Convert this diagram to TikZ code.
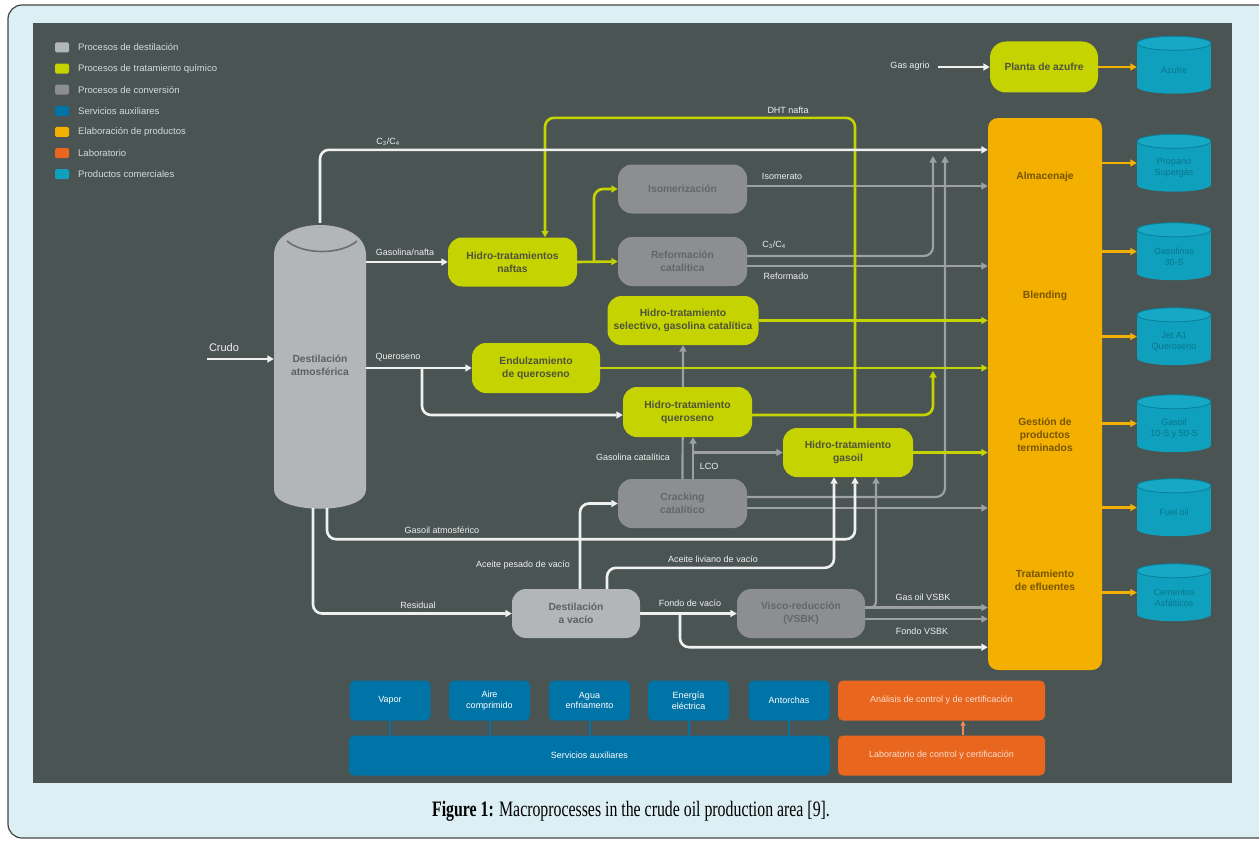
\documentclass[tikz,border=0pt]{standalone}
\usepackage{fontspec}
\setmainfont{Liberation Sans}
\newfontfamily\capfont[FakeStretch=0.72]{Liberation Serif}
\usetikzlibrary{arrows.meta}
\pgfdeclarelayer{back}
\pgfdeclarelayer{lines}
\pgfsetlayers{back,lines,main}

\definecolor{panel}{RGB}{73,84,83}
\definecolor{paper}{RGB}{220,239,244}
\definecolor{framec}{RGB}{70,70,70}
\definecolor{distc}{RGB}{179,182,185}
\definecolor{distt}{RGB}{92,97,100}
\definecolor{limec}{RGB}{197,211,0}
\definecolor{limet}{RGB}{78,84,60}
\definecolor{convc}{RGB}{140,142,144}
\definecolor{convt}{RGB}{100,102,104}
\definecolor{bluec}{RGB}{0,116,166}
\definecolor{elabc}{RGB}{244,176,0}
\definecolor{elabt}{RGB}{120,86,0}
\definecolor{labc}{RGB}{232,102,30}
\definecolor{labt}{RGB}{250,222,205}
\definecolor{prodc}{RGB}{14,160,188}
\definecolor{prodtop}{RGB}{22,168,196}
\definecolor{prodrim}{RGB}{8,128,152}
\definecolor{prodt}{RGB}{10,118,142}
\definecolor{wl}{RGB}{240,240,240}
\definecolor{gl}{RGB}{158,161,163}
\definecolor{legt}{RGB}{215,218,218}
\definecolor{arcc}{RGB}{105,110,113}

\newcommand\prodcyl[3]{%
  \node[prodhold] (#1) at (1174,#2) {};
  \node[prodtxt] (#1t) at (1174,#2+5) {#3};
  \begin{pgfonlayer}{lines}
    \fill[prodc] ([yshift=-7pt]#1.north west) rectangle ([yshift=7pt]#1.south east);
    \fill[prodc] ([yshift=7pt]#1.south) ellipse [x radius=37pt, y radius=7pt];
    \filldraw[fill=prodtop, draw=prodrim, line width=0.8pt] ([yshift=-7pt]#1.north) ellipse [x radius=37pt, y radius=7pt];
  \end{pgfonlayer}}

\begin{document}
\begin{tikzpicture}[x=1pt,y=-1pt,
  >={Triangle[length=6.5pt,width=7pt]},
  ln/.style={line width=2.6pt, rounded corners=9pt},
  wln/.style={ln, draw=wl}, warr/.style={wln, ->},
  gln/.style={ln, line width=2.2pt, draw=gl}, garr/.style={gln, ->},
  lln/.style={ln, draw=limec}, larr/.style={lln, ->},
  oarr/.style={ln, draw=elabc, ->},
  lbl/.style={text=wl, font=\fontsize{9}{10}\selectfont, inner sep=0pt},
  proc/.style={rectangle, rounded corners=14pt, minimum width=129pt, minimum height=49pt, align=center, inner sep=2pt, font=\bfseries\fontsize{10.3}{13}\selectfont},
  lproc/.style={proc, fill=limec, text=limet},
  gproc/.style={proc, fill=convc, text=convt},
  dproc/.style={proc, fill=distc, text=distt},
  svc/.style={rectangle, rounded corners=5pt, minimum height=40pt, minimum width=81pt, fill=bluec, text=white, align=center, inner sep=1pt, font=\fontsize{9}{10.5}\selectfont},
  lab/.style={svc, fill=labc, text=labt, minimum width=207pt},
  obtxt/.style={text=elabt, align=center, font=\bfseries\fontsize{10.3}{13}\selectfont},
  prodhold/.style={rectangle, minimum width=74pt, minimum height=57pt, inner sep=0pt},
  prodtxt/.style={text=prodt, align=center, font=\fontsize{9}{11}\selectfont},
  legsq/.style={rectangle, rounded corners=1.5pt, minimum width=14pt, minimum height=10pt, inner sep=0pt},
  legtx/.style={anchor=west, text=legt, font=\fontsize{9.5}{11}\selectfont, inner sep=0pt}]

\useasboundingbox (0,0) rectangle (1259,843);
\clip (0,0) rectangle (1259,843);

\begin{pgfonlayer}{back}
  \fill[white] (0,0) rectangle (1259,843);
  \filldraw[fill=paper, draw=framec, line width=1.2pt, rounded corners=14pt] (8,5) rectangle (1300,838);
  \fill[panel] (33,23) rectangle (1232,783);
\end{pgfonlayer}

% legend
\foreach \c/\t [count=\i] in {distc/Procesos de destilación, limec/Procesos de tratamiento químico, convc/Procesos de conversión, bluec/Servicios auxiliares, elabc/Elaboración de productos, labc/Laboratorio, prodc/Productos comerciales} {
  \node[legsq, fill=\c] (lsq\i) at (62, 47.5+21.1*\i-21.1) {};
  \node[legtx] (ltx\i) at (78, 47.5+21.1*\i-21.1) {\t};
}

% column
\begin{pgfonlayer}{lines}
  \fill[distc] (274,255) .. controls (274,215) and (366,215) .. (366,255) -- (366,490) .. controls (366,515) and (274,515) .. (274,490) -- cycle;
  \draw[arcc, line width=1.6pt] (287,241) .. controls (303,255) and (341,255) .. (357,241);
\end{pgfonlayer}
\node[dproc, fill=none, minimum width=92pt, minimum height=285pt] (col) at (320,365.5) {Destilación\\atmosférica};

% process nodes
\node[lproc] (htn) at (512.5,262) {Hidro-tratamientos\\naftas};
\node[gproc] (isom) at (682.5,189) {Isomerización};
\node[gproc] (reform) at (682.5,261.5) {Reformación\\catalítica};
\node[lproc, minimum width=151pt] (sel) at (683,320.5) {Hidro-tratamiento\\selectivo, gasolina catalítica};
\node[lproc, minimum width=128pt, minimum height=50pt] (endu) at (536,368) {Endulzamiento\\de queroseno};
\node[lproc, minimum height=50pt] (htk) at (687.5,412) {Hidro-tratamiento\\queroseno};
\node[lproc, minimum width=130pt] (htg) at (848,452.5) {Hidro-tratamiento\\gasoil};
\node[gproc] (crack) at (682.5,503.5) {Cracking\\catalítico};
\node[dproc, minimum width=128pt] (dvac) at (576,613.5) {Destilación\\a vacío};
\node[gproc, minimum width=128pt] (vsbk) at (801,613.5) {Visco-reducción\\(VSBK)};
\node[lproc, minimum width=108pt, minimum height=51pt, rounded corners=16pt] (planta) at (1044,67) {Planta de azufre};

% big orange box
\node[rectangle, rounded corners=10pt, fill=elabc, minimum width=114pt, minimum height=552pt, inner sep=0pt] (ob) at (1045,394) {};
\node[obtxt] (obA) at (1045,177) {Almacenaje};
\node[obtxt] (obB) at (1045,296) {Blending};
\node[obtxt] (obC) at (1045,435) {Gestión de\\productos\\terminados};
\node[obtxt] (obD) at (1045,580) {Tratamiento\\de efluentes};

% products
\prodcyl{azu}{65}{Azufre}
\prodcyl{pro}{163}{Propano\\Supergás}
\prodcyl{gsl}{251.5}{Gasolinas\\30-S}
\prodcyl{jet}{336.5}{Jet A1\\Queroseno}
\prodcyl{gso}{423.5}{Gasoil\\10-S y 50-S}
\prodcyl{fue}{507.5}{Fuel oil}
\prodcyl{cem}{592.5}{Cementos\\Asfálticos}

% services and laboratory
\node[svc] (vap) at (390,700.5) {Vapor};
\node[svc] (aire) at (489.5,700.5) {Aire\\comprimido};
\node[svc] (agua) at (589.5,700.5) {Agua\\enfriamento};
\node[svc] (ener) at (688.5,700.5) {Energía\\eléctrica};
\node[svc] (ant) at (789,700.5) {Antorchas};
\node[svc, minimum width=481pt] (serv) at (589.5,755.5) {Servicios auxiliares};
\node[lab] (anal) at (941.5,700.5) {Análisis de control y de certificación};
\node[lab] (labo) at (941.5,755.5) {Laboratorio de control y certificación};

% coordinates for free ends
\coordinate (crudoS) at (207,359);
\coordinate (gasS) at (938,67);
\coordinate (kerj) at (422,368);
\coordinate (htnj) at (594,262);
\coordinate (c34e) at (933,156);
\coordinate (cre) at (945,156);
\coordinate (kere) at (933,371);
\coordinate (lcoj) at (693,452.5);
\coordinate (fondoj) at (680,613.5);

% labels
\node[lbl, font=\fontsize{11}{12}\selectfont] (lcru) at (224,348) {Crudo};
\node[lbl] (lgn) at (405,252) {Gasolina/nafta};
\node[lbl] (lq) at (398,357) {Queroseno};
\node[lbl] (lc34a) at (388,142) {C\textsubscript{3}/C\textsubscript{4}};
\node[lbl] (liso) at (782,176) {Isomerato};
\node[lbl] (lc34b) at (774,245) {C\textsubscript{3}/C\textsubscript{4}};
\node[lbl] (lref) at (786,276) {Reformado};
\node[lbl] (ldht) at (788,110) {DHT nafta};
\node[lbl] (lgc) at (633,457) {Gasolina catalítica};
\node[lbl] (llco) at (709,466) {LCO};
\node[lbl] (lga) at (442,530) {Gasoil atmosférico};
\node[lbl] (lap) at (523,565) {Aceite pesado de vacío};
\node[lbl] (lal) at (713,559) {Aceite liviano de vacío};
\node[lbl] (lres) at (418,605) {Residual};
\node[lbl] (lfv) at (690,603) {Fondo de vacío};
\node[lbl] (lgov) at (923,597) {Gas oil VSBK};
\node[lbl] (lfvs) at (922,631) {Fondo VSBK};
\node[lbl] (lgag) at (910,66) {Gas agrio};

% caption
\node[font=\capfont\fontsize{22}{25}\selectfont, text=black] (cap) at (631,811) {\textbf{Figure 1:} Macroprocesses in the crude oil production area [9].};

\begin{pgfonlayer}{lines}
  % gray connectors
  \draw[garr] ([yshift=3pt]isom.east) -- ([yshift=3pt]isom.east -| ob.west);
  \draw[garr] ([yshift=5.5pt]reform.east) -| (c34e);
  \draw[garr] ([yshift=-4.5pt]reform.east) -- ([yshift=-4.5pt]reform.east -| ob.west);
  \draw[garr] (crack.north) -- (sel.south);
  \draw[garr] ([xshift=10.5pt]crack.north) -- ([xshift=10.5pt]crack.north |- htk.south);
  \draw[garr] (lcoj) -- (htg.west);
  \draw[garr] ([yshift=6.5pt]crack.east) -| (cre);
  \draw[garr] ([yshift=-4.5pt]crack.east) -- ([yshift=-4.5pt]crack.east -| ob.west);
  \draw[garr] ([yshift=6pt]vsbk.east) -- ([yshift=6pt]vsbk.east -| ob.west);
  \draw[garr, rounded corners=5pt] ([yshift=6pt]vsbk.east) -| ([xshift=28pt]htg.south);
  \draw[garr] ([yshift=-5.5pt]vsbk.east) -- ([yshift=-5.5pt]vsbk.east -| ob.west);
  % lime connectors
  \draw[larr] (htn.east) -- (reform.west);
  \draw[larr] (htnj) |- (isom.west);
  \draw[larr] ([xshift=7pt]htg.north) -- ++(0,-310) -| ([xshift=32.5pt]htn.north);
  \draw[larr] (sel.east) -- (sel.east -| ob.west);
  \draw[larr] (endu.east) -- (endu.east -| ob.west);
  \draw[larr] ([yshift=-3pt]htk.east) -| (kere);
  \draw[larr] (htg.east) -- (htg.east -| ob.west);
  % white connectors
  \draw[warr] (crudoS) -- (col.west |- crudoS);
  \draw[warr] (col.north) |- ([yshift=-32pt]ob.north west);
  \draw[warr] (col.east |- htn.west) -- (htn.west);
  \draw[warr] (col.east |- endu.west) -- (endu.west);
  \draw[warr] (kerj) |- ([yshift=-3pt]htk.west);
  \draw[warr] ([xshift=7pt]col.south) -- ++(0,31) -| ([xshift=7pt]htg.south);
  \draw[warr] ([xshift=-7pt]col.south) |- (dvac.west);
  \draw[warr] ([xshift=4pt]dvac.north) |- (crack.west);
  \draw[warr] ([xshift=31pt]dvac.north) -- ++(0,-21) -| ([xshift=-14pt]htg.south);
  \draw[warr] (dvac.east) -- (vsbk.west);
  \draw[warr] (fondoj) |- ([yshift=23pt]ob.south west);
  \draw[warr] (gasS) -- (planta.west);
  % orange connectors
  \draw[oarr] (planta.east) -- (planta.east -| azu.west);
  \draw[oarr] (ob.east |- pro.west) -- (pro.west);
  \draw[oarr] (ob.east |- gsl.west) -- (gsl.west);
  \draw[oarr] (ob.east |- jet.west) -- (jet.west);
  \draw[oarr] (ob.east |- gso.west) -- (gso.west);
  \draw[oarr] (ob.east |- fue.west) -- (fue.west);
  \draw[oarr] (ob.east |- cem.west) -- (cem.west);
  % services
  \foreach \n in {vap,aire,agua,ener,ant} {
    \draw[bluec, line width=2pt] (\n.south) -- (\n.south |- serv.north);
  }
  \draw[labc!75!white, line width=1.5pt, -{Triangle[length=5pt,width=5pt]}] ([xshift=21.5pt]labo.north) -- ([xshift=21.5pt]anal.south);
\end{pgfonlayer}
\end{tikzpicture}
\end{document}
